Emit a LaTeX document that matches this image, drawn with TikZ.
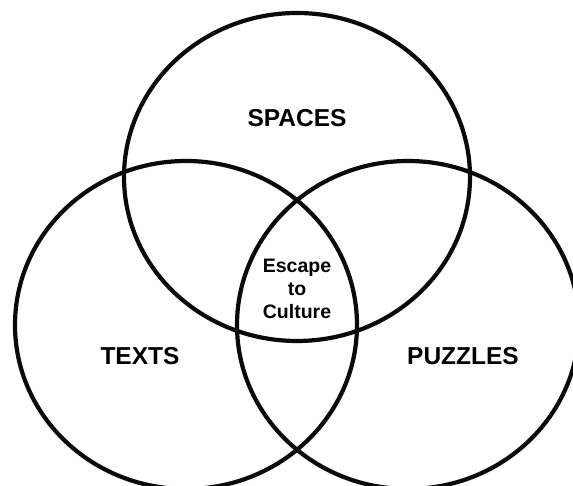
\documentclass[tikz,border=0pt]{standalone}
\usepackage{fontspec}
\setmainfont{Liberation Sans}
\usepackage{tikz}
\usetikzlibrary{positioning}
\usepackage{xcolor}
\definecolor{ringblack}{HTML}{0A0A0A}

\begin{document}
\begin{tikzpicture}[x=1pt, y=1pt,
    ring/.style={draw=ringblack, line width=4.2pt},
    setlabel/.style={font=\bfseries\fontsize{24.5}{29}\selectfont, anchor=base, inner sep=0pt},
    corelabel/.style={font=\bfseries\fontsize{19.5}{23}\selectfont, align=center, inner sep=0pt}]
  \useasboundingbox (0,0) rectangle (573,486);
  \clip (0,0) rectangle (573,486);
  % Mittelpunkte der drei Kreise
  \coordinate (cSpaces) at (297,309);
  \coordinate (cTexts) at (186,161);
  \coordinate (cPuzzles) at (408,161);
  \draw[ring] (cSpaces) ellipse (173 and 164);
  \draw[ring] (cTexts) ellipse (171 and 164);
  \draw[ring] (cPuzzles) ellipse (171 and 164);
  % Beschriftungen
  \node[setlabel] (spaces) at (297,359) {SPACES};
  \node[setlabel] (texts) at (140,121) {TEXTS};
  \node[setlabel] (puzzles) at (463,121) {PUZZLES};
  \node[corelabel] (core) at (297,197) {Escape\\to\\Culture};
\end{tikzpicture}
\end{document}
